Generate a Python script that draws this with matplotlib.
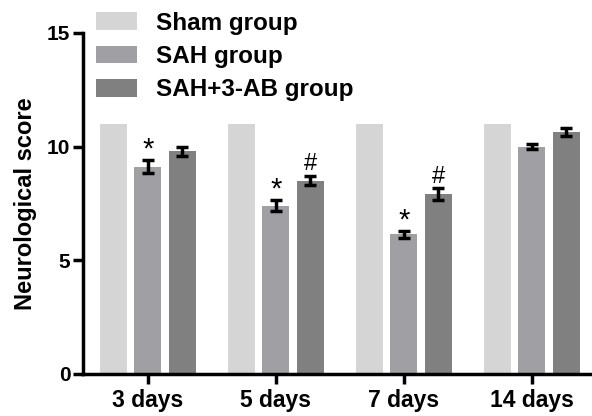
import matplotlib
matplotlib.use("Agg")
import matplotlib.pyplot as plt
from matplotlib.patches import Patch
import numpy as np

plt.rcParams['font.family'] = ['Liberation Sans', 'DejaVu Sans']
plt.rcParams['font.weight'] = 'bold'

categories = ["3 days", "5 days", "7 days", "14 days"]
groups = ["Sham group", "SAH group", "SAH+3-AB group"]
sham = [11.0, 11.0, 11.0, 11.0]
sah = [9.12, 7.4, 6.15, 10.0]
sah_err = [0.3, 0.25, 0.15, 0.12]
ab = [9.79, 8.5, 7.92, 10.63]
ab_err = [0.2, 0.2, 0.25, 0.18]
sah_marks = ["*", "*", "*", ""]
ab_marks = ["", "#", "#", ""]
colors = ["#d5d5d5", "#a0a0a4", "#7f807f"]

fig = plt.figure(figsize=(5.92, 4.16), dpi=100)
ax = fig.add_axes([0.140, 0.101, 0.86, 0.820])

x = np.arange(len(categories))
w = 0.21
off = 0.27
ax.bar(x - off, sham, w, color=colors[0], label=groups[0], zorder=2)
ax.bar(x, sah, w, color=colors[1], label=groups[1], zorder=2)
ax.bar(x + off, ab, w, color=colors[2], label=groups[2], zorder=2)
ax.errorbar(x, sah, yerr=sah_err, fmt='none', ecolor='black', elinewidth=2.5,
            capsize=4, capthick=2.5, zorder=3)
ax.errorbar(x + off, ab, yerr=ab_err, fmt='none', ecolor='black', elinewidth=2.5,
            capsize=4, capthick=2.5, zorder=3)

for i in range(len(categories)):
    if sah_marks[i]:
        ax.text(x[i], sah[i] + sah_err[i] - 0.15, sah_marks[i], ha='center', va='bottom',
                fontsize=21, fontweight='normal')
    if ab_marks[i]:
        ax.text(x[i] + off, ab[i] + ab_err[i] + 0.03, ab_marks[i], ha='center', va='bottom',
                fontsize=17, fontweight='normal')

ax.set_xlim(-0.508, 3.47)
ax.set_ylim(0, 15)
ax.set_yticks([0, 5, 10, 15])
ax.set_xticks(x)
ax.set_xticklabels(categories, fontsize=16.5, fontweight='bold')
ax.tick_params(axis='y', labelsize=15, width=2.5, length=7, direction='out', pad=2)
ax.tick_params(axis='x', width=2.5, length=7, direction='out', pad=4)
for lab in ax.get_yticklabels():
    lab.set_fontweight('bold')
ax.spines['top'].set_visible(False)
ax.spines['right'].set_visible(False)
ax.spines['left'].set_linewidth(2.5)
ax.spines['bottom'].set_linewidth(2.5)
ax.set_ylabel("Neurological score", fontsize=17, fontweight='bold', labelpad=7)

handles = [Patch(facecolor=c, edgecolor='none') for c in colors]
fig.legend(handles, groups, loc='upper left', bbox_to_anchor=(0.145, 0.995),
           frameon=False, handlelength=1.7, handleheight=0.75,
           labelspacing=0.42, handletextpad=0.8, borderaxespad=0.0,
           prop={'weight': 'bold', 'size': 17.5})

fig.savefig("out.png", dpi=100)
